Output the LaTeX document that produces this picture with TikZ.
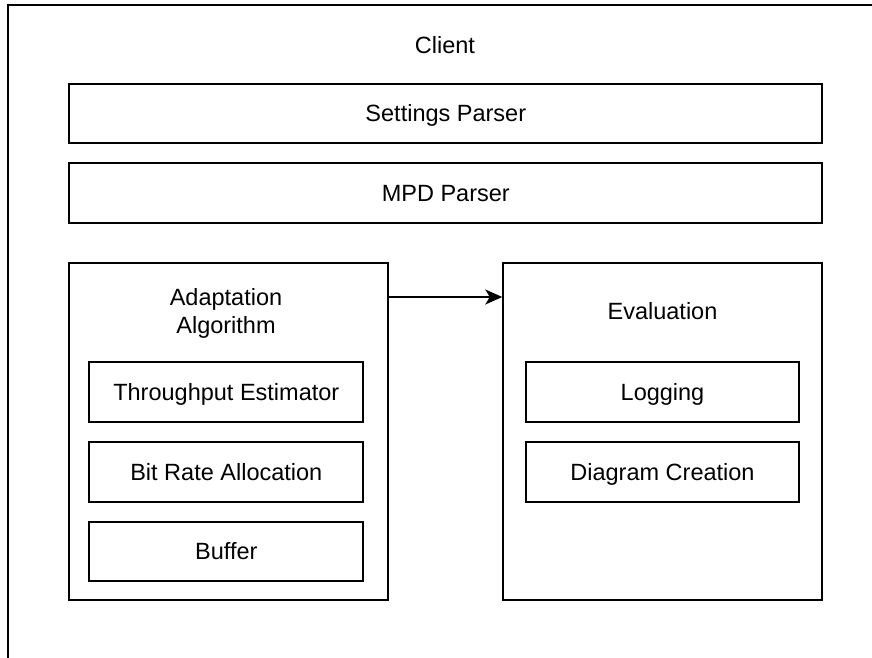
\documentclass[tikz,border=0pt]{standalone}
\usepackage{fontspec}
\setmainfont{Liberation Sans}
\usetikzlibrary{arrows.meta,calc}
\begin{document}
\begin{tikzpicture}[x=1pt,y=-1pt,
  every node/.style={font=\fontsize{23.5}{28}\selectfont, align=center, inner sep=0pt},
  box/.style={draw=black, line width=2pt, rectangle},
  txtbox/.style={box, text height=21.3pt, text depth=5pt},
  lbl/.style={text=black},
  conn/.style={line width=2pt, -{Stealth[length=17pt,width=15pt,inset=4.5pt]}}
]
\useasboundingbox (0,0) rectangle (872,658);
\clip (0,0) rectangle (872,658);
\fill[white] (0,0) rectangle (872,658);
% outer container
\node[box, minimum width=876pt, minimum height=690pt, anchor=north west] (client) at (7,4) {};
\node[lbl] (clientlbl) at (445,45) {Client};
% parsers
\node[txtbox, minimum width=753pt, minimum height=59.5pt] (settings) at (445.8,113.7) {Settings Parser};
\node[txtbox, minimum width=753pt, minimum height=60pt] (mpd) at (445.8,193.3) {MPD Parser};
% adaptation
\node[box, minimum width=319pt, minimum height=337pt] (adapt) at (228.5,431.5) {};
\node[lbl] (adaptlbl) at (226,313.5) {Adaptation\\Algorithm};
\node[txtbox, minimum width=274pt, minimum height=59.5pt] (thr) at (226.3,392) {Throughput Estimator};
\node[txtbox, minimum width=274pt, minimum height=59.5pt] (bra) at (226.3,472) {Bit Rate Allocation};
\node[txtbox, minimum width=274pt, minimum height=59pt] (buf) at (226.3,551.7) {Buffer};
% evaluation
\node[box, minimum width=319pt, minimum height=337pt] (eval) at (662.8,431.5) {};
\node[lbl] (evallbl) at (662.5,311) {Evaluation};
\node[txtbox, minimum width=273.6pt, minimum height=60pt] (log) at (662.5,392) {Logging};
\node[txtbox, minimum width=273.6pt, minimum height=60pt] (diag) at (662.5,472) {Diagram Creation};
% connector
\coordinate (ay) at (0,297);
\draw[conn] (adapt.east |- ay) -- (eval.west |- ay);
\end{tikzpicture}
\end{document}
